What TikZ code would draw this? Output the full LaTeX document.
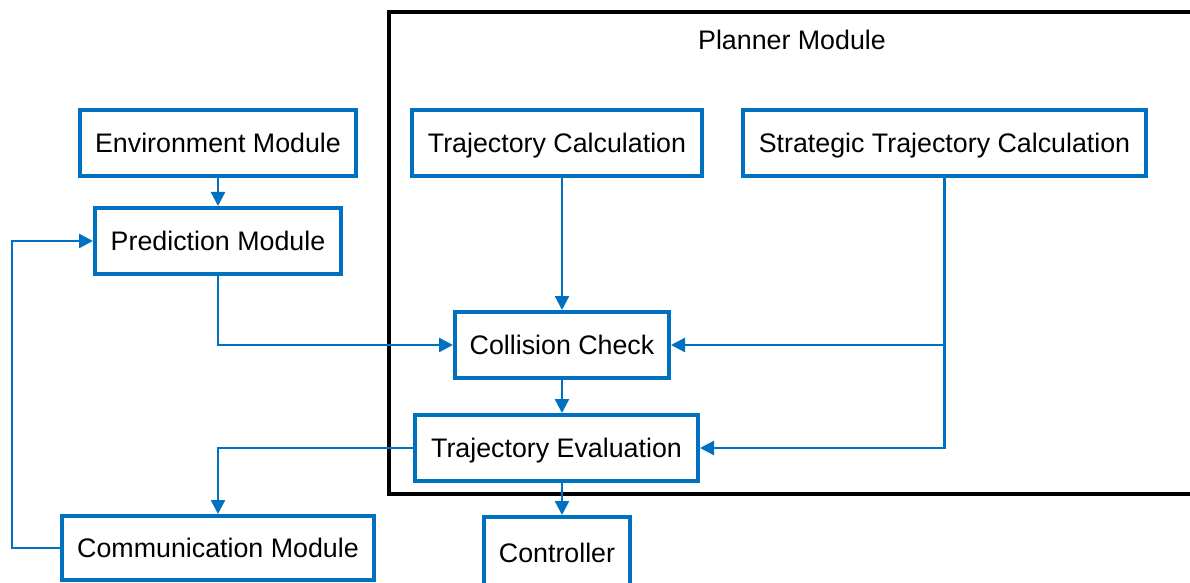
\documentclass[tikz,border=0pt]{standalone}
\usepackage{fontspec}
\setmainfont{Liberation Sans}
\usetikzlibrary{arrows.meta}
\definecolor{modblue}{RGB}{0,112,192}

\begin{document}
\begin{tikzpicture}[x=0.5pt, y=-0.5pt, >={Triangle[length=7pt,width=7pt]},
  block/.style={draw=modblue, line width=2pt, fill=white, minimum height=33pt,
    inner sep=0pt, text height=10.8pt, text depth=1.6pt,
    font=\fontsize{13.4}{16}\selectfont},
  link/.style={->, draw=modblue, line width=1.2pt}]

  \useasboundingbox (0,0) rectangle (1190,583);

  % Рамка на планера
  \draw[black, line width=2pt] (389,12) rectangle (1210,494);
  \node[font=\fontsize{13.4}{16}\selectfont] (planner) at (792,40) {Planner Module};

  % Модули отвън
  \node[block, minimum width=138pt] (env) at (218,143) {Environment Module};
  \node[block, minimum width=123pt] (pred) at (218,241) {Prediction Module};
  \node[block, minimum width=156pt, minimum height=32pt] (comm) at (218,548) {Communication Module};

  % Модули в планера
  \node[block, minimum width=145pt] (trajcalc) at (557,143) {Trajectory Calculation};
  \node[block, minimum width=201.5pt] (strat) at (944.5,143) {Strategic Trajectory Calculation};
  \node[block, minimum width=107pt] (check) at (562,345) {Collision Check};
  \node[block, minimum width=141.5pt] (eval) at (556.5,448) {Trajectory Evaluation};

  % Контролер (отрязан долу)
  \node[block, minimum width=73pt, minimum height=36pt] (ctrl) at (557,553) {Controller};

  % Точка за обратната връзка
  \coordinate (back) at (12,0);

  % Връзки
  \draw[link] (env) -- (pred);
  \draw[link] (pred.south) |- (check.west);
  \draw[link] (check.north |- trajcalc.south) -- (check.north);
  \draw[link] (strat.south) |- (eval.east);
  \draw[link] (strat.south |- check.east) -- (check.east);
  \draw[link] (check.south) -- (check.south |- eval.north);
  \draw[link] (check.south |- eval.south) -- (check.south |- ctrl.north);
  \draw[link] (eval.west) -| (comm.north);
  \draw[link] (comm.west) -- (comm.west -| back) |- (pred.west);

\end{tikzpicture}
\end{document}
